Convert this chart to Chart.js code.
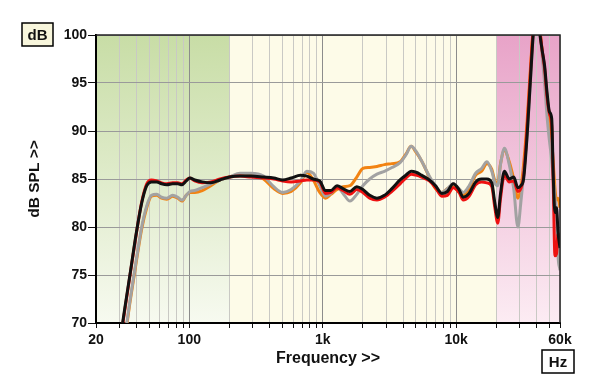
<!doctype html>
<html lang="en">
  <head>
    <meta charset="UTF-8" />
    <title>Frequency response</title>
    <script src="https://cdn.jsdelivr.net/npm/chart.js"></script>
    <style>
      html, body { margin: 0; padding: 0; background: #fff; }
      #wrap { width: 600px; height: 389px; }
    </style>
  </head>
  <body>
    <div id="wrap"><canvas id="fr"></canvas></div>

    <script>
      // frequencies (Hz) shared by all four curves
      const freqHz = [
        30, 33, 36, 40, 44, 48, 52, 57, 62, 68, 75, 82, 88, 95, 101, 110, 125, 145, 170, 200,
        240, 290, 360, 430, 500, 580, 680, 760, 850, 950, 1050, 1150, 1280, 1420, 1600, 1800,
        2000, 2250, 2550, 2900, 3300, 3800, 4200, 4600, 5000, 5500, 6300, 7000, 7800, 8600,
        9500, 10500, 11300, 12500, 14000, 15500, 17000, 18500, 19500, 20500, 21500, 23000,
        25000, 27000, 29000, 30500, 32000, 34000, 36000, 38000, 40000, 42000, 44000, 46000,
        48000, 50000, 52000, 53500, 55000, 56500, 58000, 60000
      ];

      const blackDb = [
        67.8, 71.7, 75.1, 79.3, 82.5, 84.3, 84.7, 84.7, 84.5, 84.4, 84.5, 84.5, 84.4, 84.8, 85.1, 84.9, 84.7, 84.6, 84.9, 85.2,
        85.3, 85.3, 85.2, 85.1, 84.9, 85.1, 85.4, 85.3, 85.0, 84.8, 83.8, 83.8, 84.3, 84.0, 83.7, 84.2,
        83.9, 83.3, 83.0, 83.3, 84.0, 84.9, 85.4, 85.8, 85.7, 85.4, 84.9, 84.3, 83.5, 83.7,
        84.5, 83.9, 83.1, 83.5, 84.7, 85.0, 85.0, 84.6, 82.5, 81.0, 83.5, 85.8,
        85.0, 85.2, 84.1, 84.3, 85.0, 89.5, 95.3, 100.5, 103, 100.5, 98.5, 96.8,
        94.0, 92.0, 91.3, 85.0, 81.5, 82.0, 79.5, 77.8
      ];

      const redDb = [
        67.6, 71.5, 75.0, 79.2, 82.6, 84.5, 84.9, 84.8, 84.6, 84.5, 84.6, 84.6, 84.5, 84.9, 85.1, 84.8, 84.6, 84.7, 85.0, 85.2,
        85.3, 85.2, 85.1, 85.0, 84.8, 84.7, 84.8, 84.9, 84.9, 84.7, 83.5, 83.6, 84.1, 83.8, 83.4, 83.9,
        83.6, 83.0, 82.8, 83.1, 83.7, 84.5, 85.1, 85.5, 85.4, 85.2, 84.8, 84.1, 83.2, 83.3,
        84.1, 83.6, 82.8, 83.2, 84.4, 84.7, 84.6, 84.2, 82.0, 80.4, 83.0, 85.4,
        84.7, 84.8, 83.7, 84.0, 85.3, 90.3, 96.0, 101, 103, 101, 98.5, 96.5,
        93.5, 91.8, 90.5, 84.0, 77.0, 77.2, 79.3, 79.0
      ];

      const greyDb = [
        66.0, 68.8, 72.4, 76.5, 80.0, 82.2, 83.3, 83.4, 83.1, 83.0, 83.3, 83.1, 82.8, 83.3, 83.7, 83.8, 84.1, 84.5, 84.9, 85.2,
        85.6, 85.6, 85.3, 84.2, 83.6, 83.9, 84.8, 85.8, 85.6, 84.3, 83.2, 83.5, 84.2, 83.5, 82.7, 83.4,
        84.3, 85.0, 85.5, 85.8, 86.2, 86.7, 87.5, 88.4, 87.9, 86.9, 85.3, 84.3, 83.6, 84.0,
        84.5, 84.0, 83.6, 84.3, 85.6, 86.1, 86.8, 85.8, 84.6, 84.3, 86.5, 88.2,
        86.5, 84.0, 80.0, 82.5, 85.5, 89.5, 95.0, 100.5, 103, 101, 98.0, 95.0,
        91.5, 89.0, 87.0, 85.0, 83.0, 81.5, 77.0, 75.5
      ];

      const orangeDb = [
        66.0, 68.6, 72.2, 76.3, 79.8, 82.0, 83.2, 83.3, 83.0, 82.9, 83.2, 83.0, 82.7, 83.3, 83.6, 83.6, 83.8, 84.3, 84.9, 85.2,
        85.5, 85.5, 85.0, 84.0, 83.5, 83.7, 84.6, 85.7, 84.9, 83.6, 83.0, 83.4, 83.9, 84.2, 84.3, 85.2,
        86.1, 86.2, 86.3, 86.5, 86.6, 86.8, 87.6, 88.4, 87.8, 86.9, 85.2, 84.0, 83.6, 84.0,
        84.3, 83.6, 83.3, 84.0, 85.4, 85.8, 86.6, 86.0, 84.8, 84.5, 86.6, 88.0,
        86.8, 85.0, 83.0, 84.0, 86.5, 91.0, 96.5, 101, 103, 101, 98.5, 96.0,
        93.0, 91.0, 89.0, 86.5, 84.0, 82.8, 83.0, 82.0
      ];

      // axis ticks
      const xTickVals = [
        20, 30, 40, 50, 60, 70, 80, 90, 100, 200, 300, 400, 500, 600, 700, 800, 900,
        1000, 2000, 3000, 4000, 5000, 6000, 7000, 8000, 9000,
        10000, 20000, 30000, 40000, 50000, 60000
      ];
      const xTickLabels = { 20: "20", 100: "100", 1000: "1k", 10000: "10k", 60000: "60k" };
      const majorX = [100, 1000, 10000];

      const FONT = "'Liberation Sans', Arial, sans-serif";

      function pts(values) {
        return freqHz.map((f, i) => ({ x: f, y: values[i] }));
      }

      // background bands + frame + boxed unit labels
      const decor = {
        id: "decor",
        beforeDraw(chart) {
          const { ctx, chartArea: a, scales } = chart;
          const x = scales.x;
          const x200 = x.getPixelForValue(200);
          const x20k = x.getPixelForValue(20000);
          ctx.save();
          let g = ctx.createLinearGradient(0, a.top, 0, a.bottom);
          g.addColorStop(0, "#c8dda6");
          g.addColorStop(1, "#f7faf0");
          ctx.fillStyle = g;
          ctx.fillRect(a.left, a.top, x200 - a.left, a.bottom - a.top);
          ctx.fillStyle = "#fdfbe8";
          ctx.fillRect(x200, a.top, x20k - x200, a.bottom - a.top);
          g = ctx.createLinearGradient(0, a.top, 0, a.bottom);
          g.addColorStop(0, "#e8a3c8");
          g.addColorStop(1, "#fcecf3");
          ctx.fillStyle = g;
          ctx.fillRect(x20k, a.top, a.right - x20k, a.bottom - a.top);
          ctx.restore();
        },
        afterDraw(chart) {
          const { ctx, chartArea: a } = chart;
          ctx.save();
          ctx.strokeStyle = "#222";
          ctx.lineWidth = 1.5;
          ctx.beginPath();
          ctx.moveTo(a.left, a.top);
          ctx.lineTo(a.right, a.top);
          ctx.lineTo(a.right, a.bottom);
          ctx.stroke();

          // unit boxes
          function box(txt, x0, y0, w, h, fill) {
            ctx.fillStyle = fill;
            ctx.fillRect(x0, y0, w, h);
            ctx.strokeStyle = "#000";
            ctx.lineWidth = 1.5;
            ctx.strokeRect(x0, y0, w, h);
            ctx.fillStyle = "#111";
            ctx.font = "bold 15px " + FONT;
            ctx.textAlign = "center";
            ctx.textBaseline = "middle";
            ctx.fillText(txt, x0 + w / 2, y0 + h / 2 + 1);
          }
          box("dB", 22, 23, 31, 23, "#f8f6dc");
          box("Hz", 542, 350, 32, 23, "#ffffff");

          // axis titles
          ctx.fillStyle = "#111";
          ctx.textAlign = "center";
          ctx.textBaseline = "middle";
          ctx.font = "bold 16px " + FONT;
          ctx.fillText("Frequency >>", (a.left + a.right) / 2, 359);
          ctx.font = "bold 15.5px " + FONT;
          ctx.translate(35, (a.top + a.bottom) / 2);
          ctx.rotate(-Math.PI / 2);
          ctx.fillText("dB SPL >>", 0, 0);
          ctx.restore();
        },
      };

      const line = (label, values, color, order) => ({
        label: label,
        data: pts(values),
        borderColor: color,
        backgroundColor: color,
        borderWidth: 3,
        pointRadius: 0,
        cubicInterpolationMode: "monotone",
        fill: false,
        clip: 0,
        order: order,
      });

      new Chart(document.getElementById("fr").getContext("2d"), {
        type: "line",
        data: {
          datasets: [
            line("Black", blackDb, "#111111", 0),
            line("Red", redDb, "#ee1111", 1),
            line("Grey", greyDb, "#a2a2a2", 2),
            line("Orange", orangeDb, "#f28312", 3),
          ],
        },
        options: {
          responsive: true,
          maintainAspectRatio: false,
          animation: false,
          layout: { padding: { top: 35, right: 40, left: 0, bottom: 0 } },
          plugins: {
            legend: { display: false },
            tooltip: { enabled: false },
          },
          scales: {
            x: {
              type: "logarithmic",
              min: 20,
              max: 60000,
              afterBuildTicks: (s) => {
                s.ticks = xTickVals.map((v) => ({ value: v }));
              },
              afterFit: (s) => {
                s.height = 66;
              },
              ticks: {
                autoSkip: false,
                maxRotation: 0,
                padding: 4,
                color: "#111",
                font: { family: FONT, size: 14, weight: "bold" },
                callback: (v) => xTickLabels[v] || "",
              },
              grid: {
                color: (c) => (c.tick && majorX.includes(c.tick.value) ? "#8c8c8c" : "#c9c9c4"),
                lineWidth: 1,
                tickLength: 5,
                tickColor: "#111",
              },
              border: { color: "#000", width: 2 },
            },
            y: {
              min: 70,
              max: 100,
              afterFit: (s) => {
                s.width = 96;
              },
              ticks: {
                stepSize: 5,
                padding: 1,
                color: "#111",
                font: { family: FONT, size: 14, weight: "bold" },
              },
              grid: {
                color: "#9a9a9a",
                lineWidth: 1,
                tickLength: 8,
                tickColor: "#111",
              },
              border: { color: "#000", width: 2 },
            },
          },
        },
        plugins: [decor],
      });
    </script>
  </body>
</html>
